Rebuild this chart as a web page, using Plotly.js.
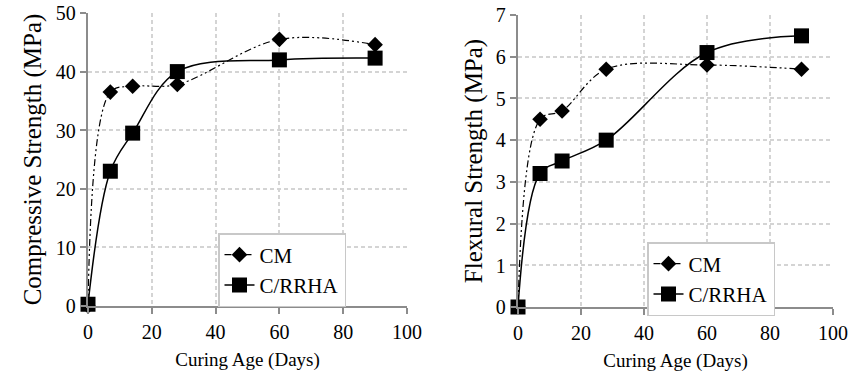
<!DOCTYPE html>
<html><head><meta charset="utf-8">
<script src="https://cdn.plot.ly/plotly-3.0.1.min.js"></script>
<style>
#c svg text { font-family: "Liberation Serif", serif !important; }
#c .xtick text, #c .x2tick text, #c .ytick text, #c .y2tick text { font-size: 20px !important; }
#c .g-xtitle text, #c .g-x2title text { font-size: 19px !important; }
</style>
</head><body style="margin:0"><div id="c" style="width:850px;height:383px"></div>
<script>
const ages = [0, 7, 14, 28, 60, 90];
const compCM = [0, 36.5, 37.5, 37.8, 45.5, 44.6];
const compCRRHA = [0.3, 23, 29.5, 40, 42, 42.3];
const flexCM = [0, 4.5, 4.7, 5.7, 5.8, 5.7];
const flexCRRHA = [0, 3.2, 3.5, 4.0, 6.1, 6.5];
const seriesNames = ['CM', 'C/RRHA'];
const xTitle = 'Curing Age (Days)';
const yTitle1 = 'Compressive Strength (MPa)';
const yTitle2 = 'Flexural Strength (MPa)';

const F = 'Liberation Serif';
const cmLine = {color: 'black', width: 1.2, shape: 'spline', smoothing: 1, dash: '7px,3px,2px,3px,2px,3px'};
const crLine = {color: 'black', width: 1.5, shape: 'spline', smoothing: 1};
const cmMarker = {symbol: 'diamond', size: 12, color: 'black'};
const crMarker = {symbol: 'square', size: 15, color: 'black'};

const traces = [
  {x: ages, y: compCM, name: seriesNames[0], mode: 'lines+markers', line: cmLine, marker: cmMarker, xaxis: 'x', yaxis: 'y', legend: 'legend', cliponaxis: false},
  {x: ages, y: compCRRHA, name: seriesNames[1], mode: 'lines+markers', line: crLine, marker: crMarker, xaxis: 'x', yaxis: 'y', legend: 'legend', cliponaxis: false},
  {x: ages, y: flexCM, name: seriesNames[0], mode: 'lines+markers', line: cmLine, marker: cmMarker, xaxis: 'x2', yaxis: 'y2', legend: 'legend2', cliponaxis: false},
  {x: ages, y: flexCRRHA, name: seriesNames[1], mode: 'lines+markers', line: crLine, marker: crMarker, xaxis: 'x2', yaxis: 'y2', legend: 'legend2', cliponaxis: false}
];

function xa(domain, anchor) {
  return {domain: domain, anchor: anchor, range: [0, 100], dtick: 20, tick0: 0,
    showgrid: true, gridcolor: '#d4d4d4', griddash: '4px,3px', gridwidth: 1.5,
    showline: true, linecolor: '#8c8c8c', linewidth: 2, zeroline: false,
    ticks: 'outside', ticklen: 6, tickcolor: '#8c8c8c', tickwidth: 2,
    title: {text: xTitle, standoff: 0}};
}
function ya(domain, anchor, max, title) {
  return {domain: domain, anchor: anchor, range: [0, max], dtick: max === 50 ? 10 : 1,
    showgrid: true, gridcolor: '#d4d4d4', griddash: '4px,3px', gridwidth: 1.5,
    showline: true, linecolor: '#8c8c8c', linewidth: 2, zeroline: false,
    ticks: 'outside', ticklen: 6, tickcolor: '#8c8c8c', tickwidth: 2,
    title: {text: title, standoff: 6}};
}

const layout = {
  width: 850, height: 383, margin: {l: 0, r: 0, t: 0, b: 0},
  paper_bgcolor: 'white', plot_bgcolor: 'white', showlegend: true,
  font: {family: F, size: 21, color: 'black'},
  xaxis: xa([88/850, 407/850], 'y'),
  yaxis: ya([1 - 306/383, 1 - 13/383], 'x', 50, yTitle1),
  xaxis2: xa([518/850, 833/850], 'y2'),
  yaxis2: ya([1 - 307/383, 1 - 15/383], 'x2', 7, yTitle2),
  legend: {x: 218/850, y: 1 - 233/383, xanchor: 'left', yanchor: 'top', bordercolor: '#c8c8c8', borderwidth: 1.5,
    bgcolor: 'white', tracegroupgap: 0},
  legend2: {x: 647/850, y: 1 - 242/383, xanchor: 'left', yanchor: 'top', bordercolor: '#c8c8c8', borderwidth: 1.5,
    bgcolor: 'white', tracegroupgap: 0}
};
Plotly.newPlot('c', traces, layout, {displayModeBar: false});
</script></body></html>
